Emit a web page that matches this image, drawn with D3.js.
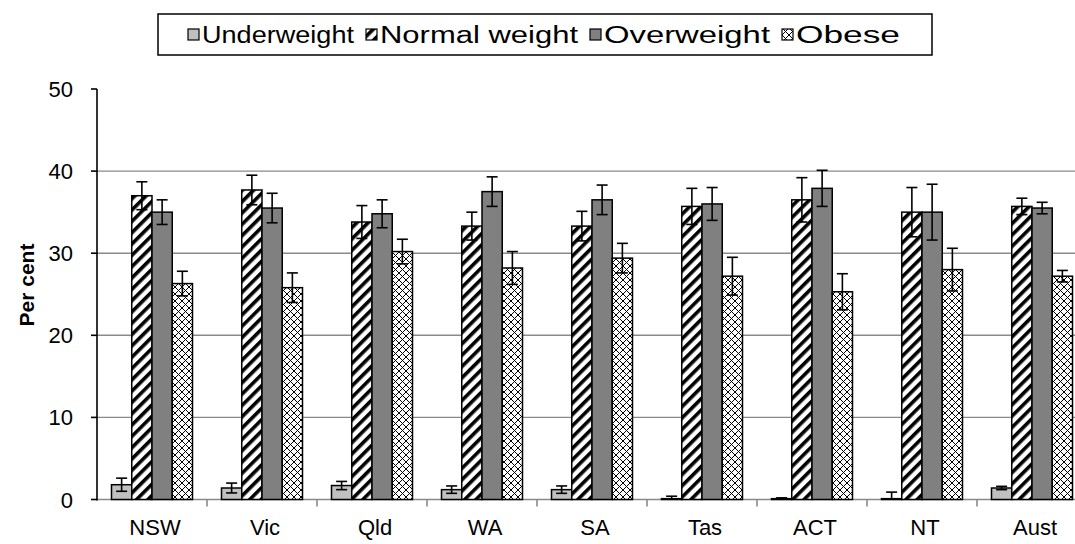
<!DOCTYPE html>
<html>
<head>
<meta charset="utf-8">
<script src="https://cdn.jsdelivr.net/npm/d3@7"></script>
<style>
  html, body { margin: 0; padding: 0; background: #fff; }
  svg { display: block; font-family: "Liberation Sans", Arial, sans-serif; }
</style>
</head>
<body>
<svg id="chart" width="1075" height="544"></svg>
<script>
// States and territories along the x axis
const categories = ["NSW", "Vic", "Qld", "WA", "SA", "Tas", "ACT", "NT", "Aust"];
// Weight categories (one bar each per state)
const seriesNames = ["Underweight", "Normal weight", "Overweight", "Obese"];

// Percent of adults in each weight category
const underweight  = [1.8, 1.4, 1.7, 1.2, 1.2, 0.1, 0.1, 0.1, 1.4];
const normalWeight = [37.0, 37.7, 33.8, 33.3, 33.3, 35.7, 36.5, 35.0, 35.7];
const overweight   = [35.0, 35.5, 34.8, 37.5, 36.5, 36.0, 37.9, 35.0, 35.5];
const obese        = [26.3, 25.8, 30.2, 28.2, 29.4, 27.2, 25.3, 28.0, 27.2];

// Half-width of the 95% confidence interval for each estimate
const underweightErr  = [0.8, 0.6, 0.5, 0.45, 0.45, 0.3, 0.1, 0.8, 0.2];
const normalWeightErr = [1.7, 1.8, 2.0, 1.7, 1.8, 2.2, 2.7, 3.0, 1.0];
const overweightErr   = [1.5, 1.8, 1.7, 1.8, 1.8, 2.0, 2.2, 3.4, 0.7];
const obeseErr        = [1.5, 1.8, 1.5, 2.0, 1.8, 2.3, 2.2, 2.6, 0.7];

const yTicks = [0, 10, 20, 30, 40, 50];

const values = [underweight, normalWeight, overweight, obese];
const errors = [underweightErr, normalWeightErr, overweightErr, obeseErr];
const fills = ["#c0c0c0", "url(#stripes)", "#808080", "url(#hatch)"];

const rows = [];
categories.forEach((c, i) => {
  seriesNames.forEach((s, j) => {
    rows.push({ cat: c, series: s, value: values[j][i], err: errors[j][i], fill: fills[j] });
  });
});

const svg = d3.select("#chart");
const W = 1075, H = 544;
svg.append("rect").attr("width", W).attr("height", H).attr("fill", "#fff");

// Fill patterns
const defs = svg.append("defs");
const stripes = defs.append("pattern")
  .attr("id", "stripes").attr("patternUnits", "userSpaceOnUse")
  .attr("width", 8).attr("height", 8)
  .attr("patternTransform", "rotate(45)");
stripes.append("rect").attr("width", 8).attr("height", 8).attr("fill", "#fff");
stripes.append("rect").attr("x", 0).attr("width", 3.6).attr("height", 8).attr("fill", "#000");

const hatch = defs.append("pattern")
  .attr("id", "hatch").attr("patternUnits", "userSpaceOnUse")
  .attr("width", 7).attr("height", 7);
hatch.append("rect").attr("width", 7).attr("height", 7).attr("fill", "#fff");
hatch.append("path").attr("d", "M0,0L7,7M7,0L0,7").attr("stroke", "#000").attr("stroke-width", 1);

// Plot area bounds
const plotLeft = 97, plotRight = 1087, plotTop = 89, plotBottom = 499.5;
const x = d3.scaleBand().domain(categories).range([plotLeft, plotRight]).padding(0);
const xs = d3.scaleBand().domain(seriesNames).range([14.5, x.bandwidth() - 14.5]).padding(0);
const y = d3.scaleLinear().domain([0, 50]).range([plotBottom, plotTop]);

// Horizontal gridlines
svg.append("g").selectAll("line")
  .data(yTicks.filter(t => t > 0 && t < 50))
  .join("line")
  .attr("x1", plotLeft).attr("x2", W)
  .attr("y1", d => y(d)).attr("y2", d => y(d))
  .attr("stroke", "#8a8a8a").attr("stroke-width", 1.4);

// X axis (baseline with ticks between categories)
const xAxis = svg.append("g");
xAxis.append("line")
  .attr("x1", plotLeft).attr("x2", W).attr("y1", y(0)).attr("y2", y(0))
  .attr("stroke", "#8a8a8a").attr("stroke-width", 1.6);
xAxis.selectAll("line.tick")
  .data(categories.slice(1))
  .join("line").attr("class", "tick")
  .attr("x1", d => x(d)).attr("x2", d => x(d))
  .attr("y1", y(0)).attr("y2", y(0) + 7)
  .attr("stroke", "#8a8a8a").attr("stroke-width", 1.6);
xAxis.selectAll("text")
  .data(categories)
  .join("text")
  .attr("x", d => x(d) + x.bandwidth() / 2 + 3)
  .attr("y", 535)
  .attr("text-anchor", "middle")
  .attr("font-size", 22)
  .attr("fill", "#000")
  .text(d => d);

// Bars
const barG = svg.append("g");
barG.selectAll("rect")
  .data(rows)
  .join("rect")
  .attr("x", d => x(d.cat) + xs(d.series))
  .attr("y", d => y(d.value))
  .attr("width", xs.bandwidth())
  .attr("height", d => y(0) - y(d.value))
  .attr("fill", d => d.fill)
  .attr("stroke", "#000")
  .attr("stroke-width", 1.5);

// Error bars (clipped at zero)
const capHalf = 5.5;
const errG = svg.append("g").attr("stroke", "#000").attr("stroke-width", 1.6).attr("fill", "none");
rows.forEach(d => {
  const cx = x(d.cat) + xs(d.series) + xs.bandwidth() / 2;
  const hi = d.value + d.err;
  const lo = Math.max(0, d.value - d.err);
  errG.append("line").attr("x1", cx).attr("x2", cx).attr("y1", y(hi)).attr("y2", y(lo));
  errG.append("line").attr("x1", cx - capHalf).attr("x2", cx + capHalf).attr("y1", y(hi)).attr("y2", y(hi));
  if (d.value - d.err > 0) {
    errG.append("line").attr("x1", cx - capHalf).attr("x2", cx + capHalf).attr("y1", y(lo)).attr("y2", y(lo));
  }
});

// Y axis
const yAxis = svg.append("g");
yAxis.append("line")
  .attr("x1", plotLeft).attr("x2", plotLeft).attr("y1", plotTop).attr("y2", y(0) + 1)
  .attr("stroke", "#000").attr("stroke-width", 1.6);
yAxis.selectAll("line.tick")
  .data(yTicks)
  .join("line").attr("class", "tick")
  .attr("x1", plotLeft - 6).attr("x2", plotLeft)
  .attr("y1", d => y(d)).attr("y2", d => y(d))
  .attr("stroke", "#000").attr("stroke-width", 1.6);
yAxis.selectAll("text")
  .data(yTicks)
  .join("text")
  .attr("x", 73)
  .attr("y", d => y(d) + 8)
  .attr("text-anchor", "end")
  .attr("font-size", 22)
  .attr("fill", "#000")
  .text(d => d);

svg.append("text")
  .attr("transform", "translate(34,285) rotate(-90)")
  .attr("text-anchor", "middle")
  .attr("font-size", 21)
  .attr("font-weight", "bold")
  .attr("fill", "#000")
  .text("Per cent");

// Legend
const legend = svg.append("g");
legend.append("rect")
  .attr("x", 158).attr("y", 14).attr("width", 774).attr("height", 41)
  .attr("fill", "#fff").attr("stroke", "#000").attr("stroke-width", 1.5);
const legendX = [188, 366, 590, 782];
const legendW = [152, 198, 166, 104];
const items = legend.selectAll("g.item")
  .data(seriesNames)
  .join("g").attr("class", "item")
  .attr("transform", (d, i) => `translate(${legendX[i]},0)`);
items.append("rect")
  .attr("x", 0).attr("y", 29).attr("width", 11).attr("height", 11)
  .attr("fill", (d, i) => fills[i])
  .attr("stroke", "#000").attr("stroke-width", 1.2);
items.append("text")
  .attr("x", 14).attr("y", 43)
  .attr("font-size", 23)
  .attr("textLength", (d, i) => legendW[i])
  .attr("lengthAdjust", "spacingAndGlyphs")
  .attr("fill", "#000")
  .text(d => d);
</script>
</body>
</html>
